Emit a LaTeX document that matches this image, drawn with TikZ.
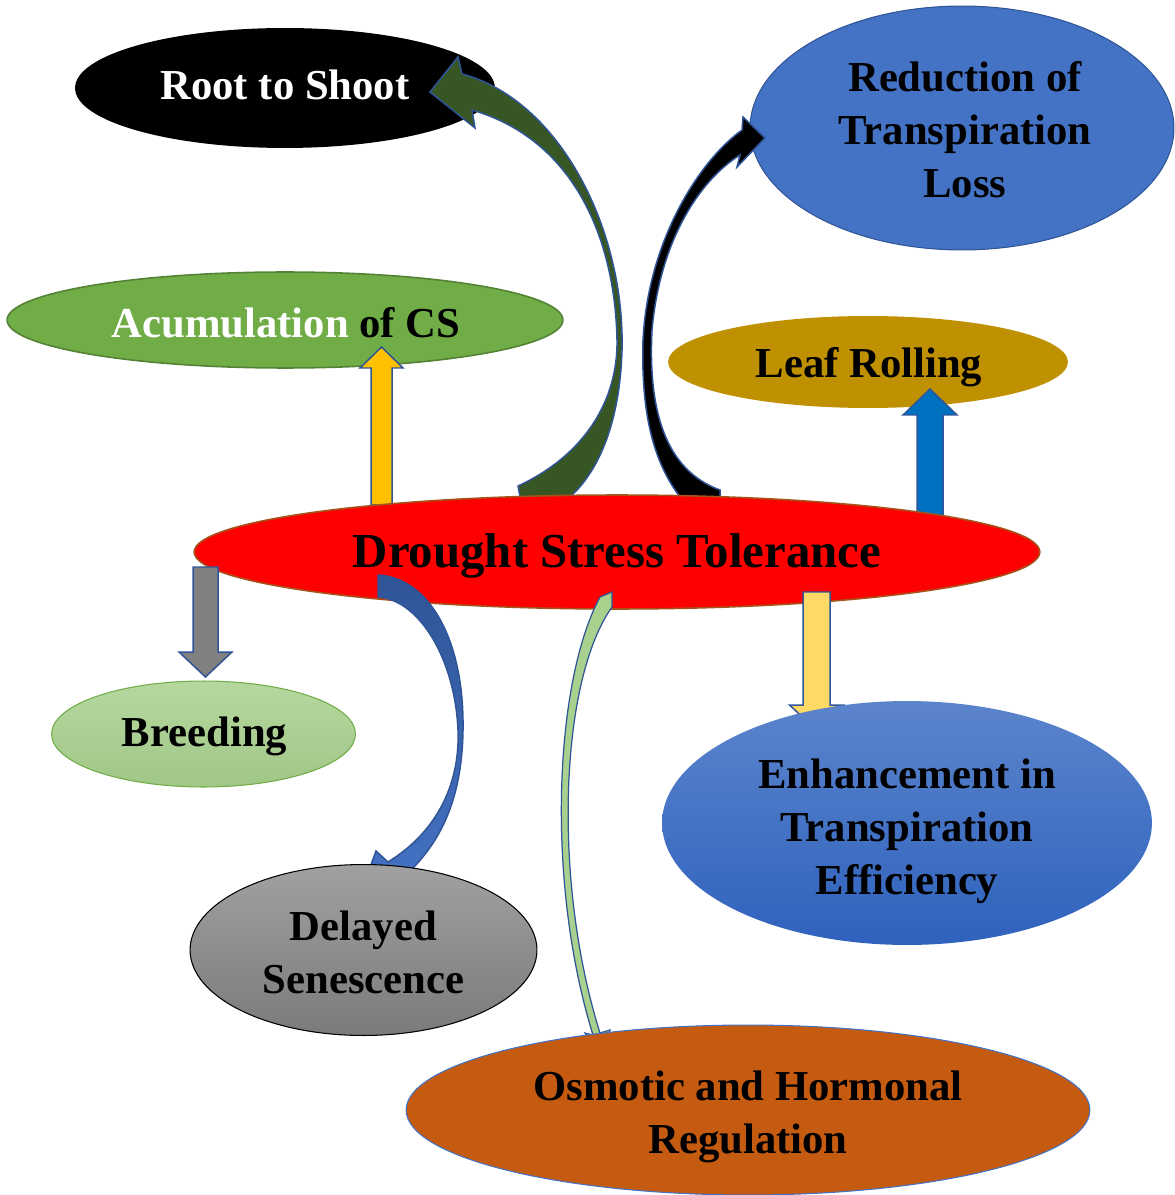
\documentclass[tikz,border=0pt]{standalone}
\usepackage{fontspec}
\setmainfont{Liberation Serif}
\usetikzlibrary{shapes.geometric,calc}
\definecolor{edgeBlue}{HTML}{2F5597}
\definecolor{lossBlue}{HTML}{4472C4}
\definecolor{csGreen}{HTML}{70AD47}
\definecolor{csEdge}{HTML}{548235}
\definecolor{leafGold}{HTML}{BF9000}
\definecolor{droughtRed}{HTML}{FF0000}
\definecolor{droughtEdge}{HTML}{A5531A}
\definecolor{rootGreen}{HTML}{375623}
\definecolor{csYellow}{HTML}{FFC000}
\definecolor{leafBlue}{HTML}{0070C0}
\definecolor{breedGray}{HTML}{808080}
\definecolor{effYellow}{HTML}{FFD966}
\definecolor{effTop}{HTML}{5B84CB}
\definecolor{effBottom}{HTML}{2F62BE}
\definecolor{osmOrange}{HTML}{C55A11}
\definecolor{osmGreen}{HTML}{A9D18E}
\tikzset{
	bubble/.style 2 args={ellipse, inner sep=0pt,
		minimum width=#1*0.04cm, minimum height=#2*0.04cm},
	lbl/.style={align=center, inner sep=0pt, font=\bfseries\fontsize{24.3}{30.2}\selectfont},
	blockline/.style={draw=edgeBlue, line width=0.85pt, line join=miter},
}
% straight block arrow: tail, tip, fill, half shaft, half head, head length
\newcommand\blockarr[6]{%
	\draw[blockline, fill=#3] ($(#1)+(-#4,0)$) -- ($(#2)+(-#4,#6)$) -- ($(#2)+(-#5,#6)$) -- (#2)
		-- ($(#2)+(#5,#6)$) -- ($(#2)+(#4,#6)$) -- ($(#1)+(#4,0)$) -- cycle;}
\begin{document}
\begin{tikzpicture}[x=0.02cm, y=-0.02cm]
	\useasboundingbox (0,0) rectangle (1174,1195);
	\node[bubble={210}{60}, fill=black] (root) at (285,88) {};
	\node[lbl, text=white] (rootText) at ($(root)+(0,-3)$) {Root to Shoot};
	\node[bubble={212}{122}, fill=lossBlue, draw=edgeBlue, line width=0.6pt] (loss) at (962,128) {};
	\node[lbl] (lossText) at ($(loss)+(3,2)$) {Reduction of\\Transpiration\\Loss};
	\node[bubble={278}{48}, fill=csGreen, draw=csEdge, line width=0.9pt] (cs) at (285,320) {};
	\node[lbl] (csText) at ($(cs)+(1,3)$) {\textcolor{white}{Acumulation} of CS};
	\node[bubble={200}{46}, fill=leafGold] (leaf) at (868,362) {};
	\node[lbl] (leafText) at ($(leaf)+(1,5)$) {Leaf Rolling};
	\coordinate (csTail) at (381.5,505);
	\coordinate (csTip) at (381.5,347);
	\coordinate (leafTail) at (930,516);
	\coordinate (leafTip) at (930,389);
	\coordinate (breedTail) at (205.5,567);
	\coordinate (breedTip) at (205.5,677);
	\coordinate (effTail) at (816.5,592);
	\coordinate (effTip) at (816.5,730);
	% curved arrows behind the centre
	\draw[blockline, fill=rootGreen] (520,497) -- (518,486) .. controls (585,455) and (618,400) .. (617,340)
		.. controls (615,240) and (575,140) .. (472,110) -- (475,128) -- (430,92) -- (458,57) -- (462,74)
		.. controls (560,100) and (625,230) .. (622,350) .. controls (620,420) and (600,470) .. (570,497) -- cycle;
	\draw[blockline, fill=black] (680,497) .. controls (652,460) and (641,410) .. (643,340)
		.. controls (648,240) and (700,160) .. (742,130) -- (743,117) -- (765,138) -- (737,167) -- (740,155)
		.. controls (700,180) and (660,240) .. (652,330) .. controls (648,410) and (665,470) .. (720,490) -- (720,497) -- cycle;
	\blockarr{csTail}{csTip}{csYellow}{10.5}{21.5}{21}
	\blockarr{leafTail}{leafTip}{leafBlue}{13}{27}{26}
	\node[bubble={423}{57}, fill=droughtRed, draw=droughtEdge, line width=0.9pt] (drought) at (617,552) {};
	\node[lbl, font=\bfseries\fontsize{27.8}{33}\selectfont] (droughtText) at ($(drought)+(0,4)$) {Drought Stress Tolerance};
	\blockarr{breedTail}{breedTip}{breedGray}{12.5}{26.5}{-25}
	\blockarr{effTail}{effTip}{effYellow}{13.5}{27}{-25}
	\draw[blockline, top color=edgeBlue, bottom color=lossBlue] (378,597) -- (378,575)
		.. controls (430,578) and (462,640) .. (463,720) .. controls (464,790) and (445,835) .. (413,868)
		-- (420,880) -- (360,895) -- (376,851) -- (388,862)
		.. controls (440,830) and (460,780) .. (458,730) .. controls (455,660) and (420,600) .. (378,597) -- cycle;
	\draw[blockline, line width=0.7pt, fill=osmGreen] (600,597) .. controls (555,680) and (545,880) .. (593,1035)
		-- (585,1033) -- (602,1060) -- (610,1030) -- (600,1033)
		.. controls (552,880) and (560,680) .. (612,607) -- (612,592) -- cycle;
	% lower row
	\node[bubble={152}{53}, top color=osmGreen!85!white, bottom color=osmGreen!95!black, draw=csGreen, line width=0.6pt] (breed) at (203.5,734) {};
	\node[lbl] (breedText) at ($(breed)+(1,2)$) {Breeding};
	\node[bubble={173.5}{85.5}, top color=black!37, bottom color=black!52, draw=black, line width=0.6pt] (senesc) at (363.5,950) {};
	\node[lbl] (senescText) at ($(senesc)+(0,2)$) {Delayed\\Senescence};
	\node[bubble={245}{122}, top color=effTop, bottom color=effBottom] (eff) at (907,823) {};
	\node[lbl] (effText) at ($(eff)+(0,8)$) {Enhancement in\\Transpiration\\Efficiency};
	\node[bubble={342}{85}, fill=osmOrange, draw=lossBlue, line width=0.6pt] (osm) at (748,1110) {};
	\node[lbl] (osmText) at ($(osm)+(0,7)$) {Osmotic and Hormonal\\Regulation};
\end{tikzpicture}
\end{document}
